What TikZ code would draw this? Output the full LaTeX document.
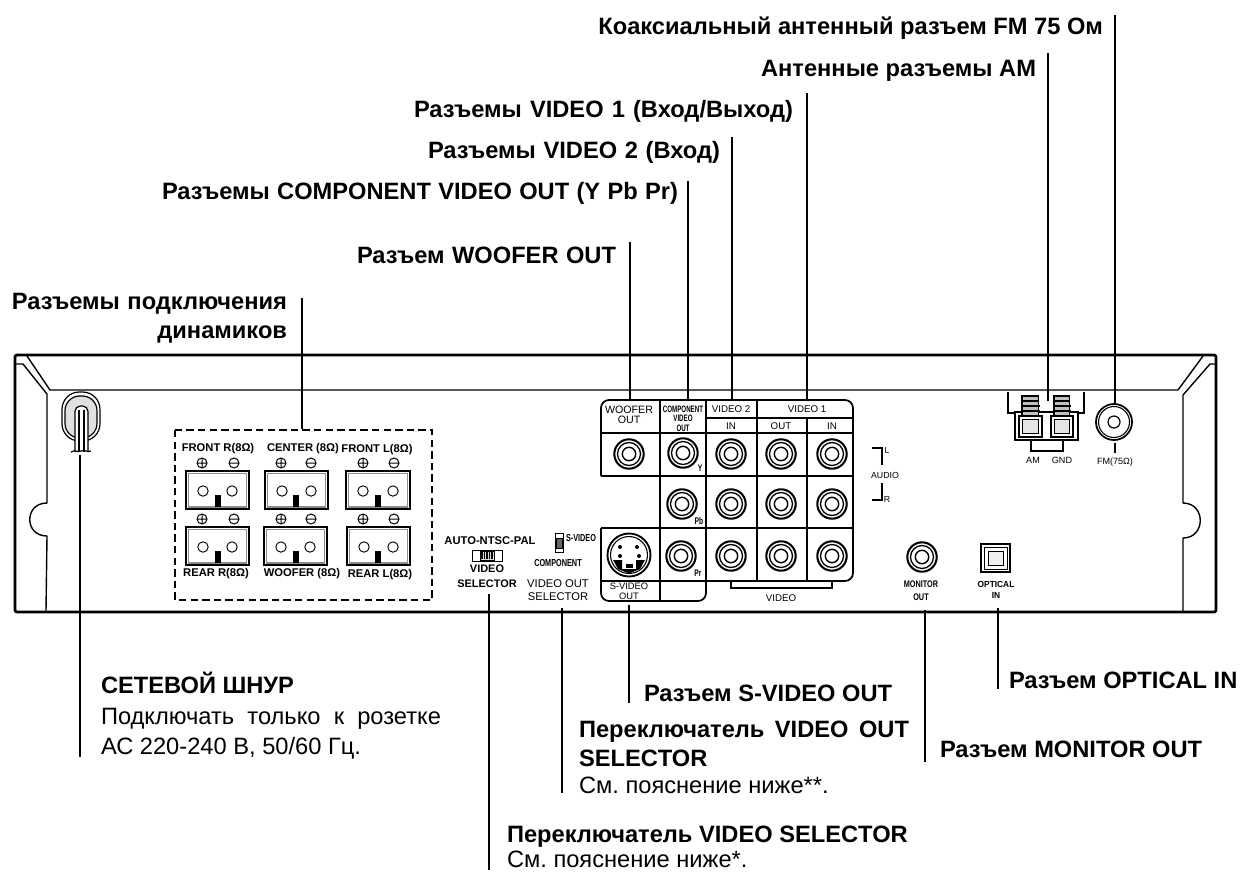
\documentclass[tikz,border=0pt]{standalone}
\usepackage{fontspec}
\usepackage{graphicx}
\setmainfont{Liberation Sans}
\frenchspacing
\newcommand{\Fs}[1]{\fontsize{#1}{#1}\selectfont}
\newcommand{\Cnd}[2][.72]{\scalebox{#1}[1]{#2}}
\tikzset{
  lbl/.style={inner sep=0pt,outer sep=0pt,font=\Fs{17.75}\bfseries,anchor=base west},
  lblr/.style={lbl,anchor=base east},
  note/.style={inner sep=0pt,outer sep=0pt,font=\Fs{17.75},anchor=base west},
  leader/.style={line width=1.5pt,black},
  frame/.style={line width=2.1pt,black,line join=round},
  thin line/.style={line width=1.05pt,black,line join=round},
  cell/.style={line width=1pt,black},
  small/.style={inner sep=0pt,outer sep=0pt,font=\Fs{7.3},align=center},
  smallb/.style={inner sep=0pt,outer sep=0pt,font=\Fs{8.4}\bfseries,align=center},
  tiny/.style={inner sep=0pt,outer sep=0pt,font=\Fs{6.2},align=center},
}
% jack
\newcommand{\jack}[2]{%
  \draw[line width=1.55pt] (#1,#2) circle[radius=14.7];
  \draw[line width=1pt] (#1,#2) circle[radius=11.5];
  \draw[line width=1.05pt] (#1,#2) circle[radius=6.7];
}
% speaker terminal with its marks
\newcommand{\term}[5]{% x0 y0 x1 y1 blockx
  \draw[line width=1.2pt] (#1,#2) rectangle (#3,#4);
  \draw[line width=.8pt,black!45] (#1+2.5,#4-2) -- (#1+2.5,#2+2.5) -- (#3-2.5,#2+2.5) -- (#3-2.5,#4-2) -- cycle;
  \draw[line width=.7pt] (#1+17,#2+20) circle[radius=5.2] (#3-17,#2+20) circle[radius=5.2];
  \fill (#5-3.2,#2+24) rectangle (#5+3.2,#4-2.5);
}
\newcommand{\plusm}[2]{\draw[line width=.75pt] (#1,#2) circle[radius=5] (#1-5,#2) -- (#1+5,#2) (#1,#2-5) -- (#1,#2+5);}
\newcommand{\minusm}[2]{\draw[line width=.75pt] (#1,#2) circle[radius=5] (#1-5,#2) -- (#1+5,#2);}
\begin{document}
\begin{tikzpicture}[x=.75pt,y=-.75pt]
\useasboundingbox (0,0) rectangle (1241,871);
% ---------- chassis ----------
\draw[frame,rounded corners=1.5pt] (15,355) rectangle (1216,612);
\draw[thin line] (27,356) -- (50,390) -- (1178,390) -- (1203,356);
\draw[thin line] (16,364) -- (23,364) -- (47,394) -- (47,503) .. controls (24,503) and (24,536) .. (47,536) -- (46,611);
\draw[thin line] (1215,364) -- (1210,364) -- (1183,395) -- (1183,503) .. controls (1206,503) and (1206,538) .. (1183,538) -- (1183,611);
% ---------- mains cord ----------
\draw[line width=.9pt,rounded corners=13pt] (62,392) rectangle (100,441);
\draw[line width=.9pt,fill=black!12,rounded corners=11pt] (65,396) rectangle (97,438);
\draw[line width=.9pt,fill=white,rounded corners=4pt] (75,452) -- (75,406) -- (88,406) -- (88,452);
\fill[white] (79,410) rectangle (84,452);
\draw[line width=.8pt] (79,410) -- (79,452) (84,410) -- (84,452);
\draw[line width=.9pt] (71,452) .. controls (75,449) and (78,453) .. (81,451) .. controls (84,449) and (88,453) .. (91,451);
% ---------- speaker box ----------
\draw[line width=1.5pt,dash pattern=on 5.5pt off 3.2pt] (175,430) rectangle (432,600);
\term{186}{471}{249}{509}{218}
\term{265}{471}{328}{509}{296}
\term{346}{471}{410}{509}{378}
\term{186}{527}{249}{565}{218}
\term{264}{527}{327}{565}{296}
\term{347}{527}{410}{565}{378}
\plusm{202}{463}\minusm{234}{463}\plusm{281}{463}\minusm{311}{463}\plusm{363}{463}\minusm{394}{463}
\plusm{202}{519}\minusm{234}{519}\plusm{281}{519}\minusm{311}{519}\plusm{363}{519}\minusm{394}{519}
\node[smallb] (tFR) at (218,449) {FRONT R(8Ω)};
\node[smallb] (tCE) at (303,449) {CENTER (8Ω)};
\node[smallb] (tFL) at (377,450) {FRONT L(8Ω)};
\node[smallb] (tRR) at (216,574) {REAR R(8Ω)};
\node[smallb] (tWF) at (302,574) {WOOFER (8Ω)};
\node[smallb] (tRL) at (380,575) {REAR L(8Ω)};
% ---------- jack panel ----------
\draw[line width=1.3pt,rounded corners=6pt] (601,476) -- (601,400) -- (853,400) -- (853,581) -- (706,581);
\draw[line width=1.3pt,rounded corners=6pt] (601,528) -- (601,601) -- (706,601) -- (706,570);
\draw[cell] (601,476) -- (853,476) (601,528) -- (853,528) (601,433) -- (853,433) (706,418) -- (853,418);
\draw[cell] (660,400) -- (660,601) (706,400) -- (706,581) (757,400) -- (757,581) (807,418) -- (807,581);
\draw[cell] (601,581) -- (706,581);
\jack{629}{454}\jack{683}{453}\jack{731}{454}\jack{781}{454}\jack{832}{454}
\jack{682}{504}\jack{731}{504}\jack{781}{504}\jack{832}{504}
\jack{681}{556}\jack{731}{556}\jack{781}{556}\jack{832}{556}
% s-video socket
\draw[line width=1.4pt] (629,555) circle[radius=21.5];
\draw[line width=.8pt] (629,555) circle[radius=18.5];
\fill (613,560) -- (622,560) -- (622,569) -- (636,569) -- (636,560) -- (645,560) -- (640,569) -- (629,573.5) -- (618,569) -- cycle;
\fill[white] (625,563) rectangle (633,568);
\fill (625.5,564) rectangle (632.5,568);
\fill (620,547) circle[radius=2] (637,547) circle[radius=2] (620,556) circle[radius=2] (639,556) circle[radius=2];
% panel texts
\node[small,font=\Fs{8}] (tWO) at (629,410) {WOOFER};
\node[small,font=\Fs{8}] (tWO2) at (629,420) {OUT};
\node[tiny,font=\Fs{7}\bfseries] (tCV) at (683,409) {\Cnd[.66]{COMPONENT}};
\node[tiny,font=\Fs{7}\bfseries] (tCV2) at (683,418.5) {\Cnd[.66]{VIDEO}};
\node[tiny,font=\Fs{7}\bfseries] (tCV3) at (683,428) {\Cnd[.66]{OUT}};
\node[small] (tV2) at (731,409) {VIDEO 2};
\node[small] (tV1) at (807,409) {VIDEO 1};
\node[small] (tI1) at (731,426) {IN};
\node[small] (tO1) at (781,426) {OUT};
\node[small] (tI2) at (832,426) {IN};
\node[tiny,font=\Fs{7.2}\bfseries] (tY) at (700,468) {\Cnd[.7]{Y}};
\node[tiny,font=\Fs{7.2}\bfseries] (tPb) at (699,521) {\Cnd[.7]{Pb}};
\node[tiny,font=\Fs{7.2}\bfseries] (tPr) at (698,573) {\Cnd[.7]{Pr}};
\node[small,font=\Fs{7}] (tSO) at (629,586.5) {S-VIDEO};
\node[small,font=\Fs{7}] (tSO2) at (629,596) {OUT};
\draw[line width=1pt] (731,581) -- (731,588) -- (832,588) -- (832,581);
\node[small] (tVI) at (781,598) {VIDEO};
% selectors
\node[smallb,font=\Fs{8.4}\bfseries] (tAN) at (490,541) {AUTO-NTSC-PAL};
\draw[line width=.7pt] (472,550) rectangle (502,561);
\draw[line width=.7pt,fill=black!15] (480,551) rectangle (494,560);
\foreach \q in {482,484.5,487,489.5,492}{\draw[line width=.9pt] (\q,552) -- (\q,559);}
\node[smallb,font=\Fs{8.2}\bfseries] (tVS) at (487,569) {VIDEO};
\node[smallb,font=\Fs{8.2}\bfseries] (tVS2) at (487,584) {SELECTOR};
\draw[line width=.7pt] (555,533) rectangle (563,552);
\draw[line width=.7pt,fill=black!60] (556,538) rectangle (562,548);
\node[smallb,font=\Fs{7.6}\bfseries,anchor=west] (tSV) at (566,538) {\Cnd[.72]{S-VIDEO}};
\node[smallb,font=\Fs{7.6}\bfseries] (tCO) at (558,563) {\Cnd[.72]{COMPONENT}};
\node[small,font=\Fs{8.4}] (tVO) at (558,584) {VIDEO OUT};
\node[small,font=\Fs{8.4}] (tVO2) at (558,597) {SELECTOR};
% audio
\draw[line width=1pt] (872,448) -- (882,448) -- (882,465) (872,500) -- (882,500) -- (882,483);
\node[tiny,font=\Fs{6.6}] (tAU) at (885,475) {AUDIO};
\node[tiny,font=\Fs{6.6}] (tL) at (887,450) {L};
\node[tiny,font=\Fs{6.6}] (tR) at (887,499) {R};
% AM terminals
\draw[line width=.9pt] (1008,392) -- (1008,413) -- (1015,413) (1084,392) -- (1084,413) -- (1078,413);
\draw[line width=1.1pt] (1015,412) rectangle (1078,440);
\foreach \q/\r in {1019/1042,1051/1073}{
  \draw[line width=.9pt,fill=black!25] (\q+3,396) rectangle (\r-3.5,416);
  \draw[line width=.8pt] (\q+2.5,401) -- (\r-3,401) (\q+2,406) -- (\r-2.5,406) (\q+1.5,411) -- (\r-2,411);
  \draw[line width=1.2pt,fill=white] (\q,416) rectangle (\r,437);
  \draw[line width=.6pt,fill=black!10] (\q+3.5,419.5) rectangle (\r-3.5,433.5);
}
\draw[line width=1pt] (1031,440) -- (1031,451) -- (1063,451) -- (1063,440);
\node[tiny,font=\Fs{6.8}] (tAM) at (1033,460) {AM};
\node[tiny,font=\Fs{6.8}] (tGN) at (1062,460) {GND};
% FM
\draw[line width=1.3pt] (1114,422) circle[radius=18];
\draw[line width=.8pt] (1114,422) circle[radius=15.5];
\draw[line width=.9pt] (1114,422) circle[radius=6];
\draw[line width=1pt] (1115,443) -- (1115,453);
\node[tiny,font=\Fs{6.8}] (tFM) at (1115,462) {FM(75Ω)};
% monitor, optical
\jack{922}{557}
\node[smallb,font=\Fs{7.2}\bfseries] (tMO) at (921,584) {\Cnd[.76]{MONITOR}};
\node[smallb,font=\Fs{7.2}\bfseries] (tMO2) at (921,597) {\Cnd[.76]{OUT}};
\draw[line width=1.1pt] (981,544) rectangle (1010,572);
\draw[line width=.7pt] (984,547) rectangle (1007,569);
\draw[line width=.5pt,fill=black!6] (988,551) rectangle (1003,565);
\node[smallb,font=\Fs{6.6}\bfseries] (tOP) at (996,584) {\Cnd[.95]{OPTICAL}};
\node[smallb,font=\Fs{6.6}\bfseries] (tOP2) at (996,595) {\Cnd[.95]{IN}};
% ---------- outer labels ----------
\node[lblr] (LFM) at (1103,34) {Коаксиальный антенный разъем FM 75 Ом};
\node[lblr] (LAM) at (1036,76) {Антенные разъемы AM};
\node[lblr] (LV1) at (793,117) {\makebox[284.25pt][s]{Разъемы VIDEO 1 (Вход/Выход)}};
\node[lblr] (LV2) at (720,158) {\makebox[219pt][s]{Разъемы VIDEO 2 (Вход)}};
\node[lblr] (LCV) at (678,199) {\makebox[387pt][s]{Разъемы COMPONENT VIDEO OUT (Y Pb Pr)}};
\node[lblr] (LWO) at (616,263) {\makebox[194.25pt][s]{Разъем WOOFER OUT}};
\node[lblr] (LSP) at (287,309) {\makebox[206.25pt][s]{Разъемы подключения}};
\node[lblr] (LSP2) at (287,338) {динамиков};
\node[lbl] (LCO) at (101,693) {СЕТЕВОЙ ШНУР};
\node[note] (LCO2) at (101,724) {\makebox[255pt][s]{Подключать только к розетке}};
\node[note] (LCO3) at (101,754) {АС 220-240 В, 50/60 Гц.};
\node[lbl] (LSV) at (644,701) {Разъем S-VIDEO OUT};
\node[lbl] (LOP) at (1009,688) {Разъем OPTICAL IN};
\node[lbl] (LMO) at (940,757) {Разъем MONITOR OUT};
\node[lbl] (LVO) at (579,737) {\makebox[247.5pt][s]{Переключатель VIDEO OUT}};
\node[lbl] (LVO2) at (579,766) {SELECTOR};
\node[note] (LVO3) at (579,793) {См. пояснение ниже**.};
\node[lbl] (LVS) at (507,842) {Переключатель VIDEO SELECTOR};
\node[note] (LVS2) at (507,867) {См. пояснение ниже*.};
% ---------- leaders ----------
\coordinate (aSP) at (302,298); \coordinate (bSP) at (302,429);
\coordinate (aWO) at (630,242); \coordinate (bWO) at (630,400);
\coordinate (aCV) at (688,181); \coordinate (bCV) at (688,400);
\coordinate (aV2) at (732,137); \coordinate (bV2) at (732,400);
\coordinate (aV1) at (807,93);  \coordinate (bV1) at (807,400);
\coordinate (aAM) at (1048,53); \coordinate (bAM) at (1048,401);
\coordinate (aFM) at (1115,15); \coordinate (bFM) at (1115,404);
\coordinate (aCO) at (80,455);  \coordinate (bCO) at (80,757);
\coordinate (aVS) at (489,594); \coordinate (bVS) at (489,870);
\coordinate (aVO) at (562,608); \coordinate (bVO) at (562,793);
\coordinate (aSO) at (629,605); \coordinate (bSO) at (629,703);
\coordinate (aMO) at (925,610); \coordinate (bMO) at (925,762);
\coordinate (aOP) at (998,608); \coordinate (bOP) at (998,689);
\foreach \n in {SP,WO,CV,V2,V1,AM,FM,CO,VS,VO,SO,MO,OP}{\draw[leader] (a\n) -- (b\n);}
\end{tikzpicture}
\end{document}
